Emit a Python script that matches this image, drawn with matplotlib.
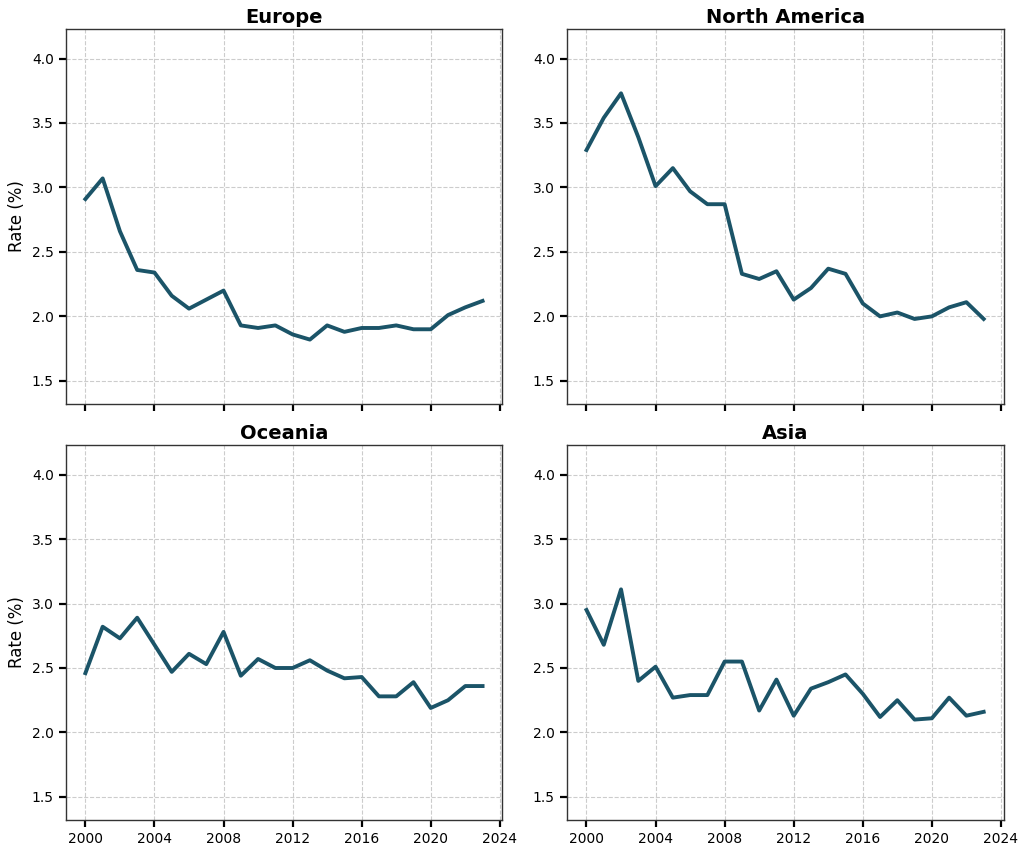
import numpy as np
import matplotlib
matplotlib.use("Agg")
import matplotlib.pyplot as plt

years = list(range(2000, 2024))

europe = [2.91, 3.07, 2.66, 2.36, 2.34, 2.16, 2.06, 2.13, 2.20, 1.93, 1.91, 1.93,
          1.86, 1.82, 1.93, 1.88, 1.91, 1.91, 1.93, 1.90, 1.90, 2.01, 2.07, 2.12]
north_america = [3.29, 3.54, 3.73, 3.39, 3.01, 3.15, 2.97, 2.87, 2.87, 2.33, 2.29, 2.35,
                 2.13, 2.22, 2.37, 2.33, 2.10, 2.00, 2.03, 1.98, 2.00, 2.07, 2.11, 1.98]
oceania = [2.46, 2.82, 2.73, 2.89, 2.68, 2.47, 2.61, 2.53, 2.78, 2.44, 2.57, 2.50,
           2.50, 2.56, 2.48, 2.42, 2.43, 2.28, 2.28, 2.39, 2.19, 2.25, 2.36, 2.36]
asia = [2.95, 2.68, 3.11, 2.40, 2.51, 2.27, 2.29, 2.29, 2.55, 2.55, 2.17, 2.41,
        2.13, 2.34, 2.39, 2.45, 2.30, 2.12, 2.25, 2.10, 2.11, 2.27, 2.13, 2.16]

regions = ["Europe", "North America", "Oceania", "Asia"]
series = [europe, north_america, oceania, asia]

LINE_COLOR = "#1b5468"

all_vals = np.concatenate([np.array(s) for s in series])
y_lo, y_hi = all_vals.min() - 0.5, all_vals.max() + 0.5

fig, axes = plt.subplots(2, 2, figsize=(10.24, 8.49), dpi=100, sharex=True)
fig.subplots_adjust(left=0.064, right=0.98, top=0.966, bottom=0.034,
                    wspace=0.147, hspace=0.109)

for i, (ax, name, vals) in enumerate(zip(axes.flat, regions, series)):
    ax.plot(years, vals, color=LINE_COLOR, linewidth=2.8)
    ax.set_title(name, fontsize=14, fontweight="bold", pad=4)
    ax.set_ylim(y_lo, y_hi)
    ax.set_xticks([2000, 2004, 2008, 2012, 2016, 2020, 2024])
    ax.set_yticks([1.5, 2.0, 2.5, 3.0, 3.5, 4.0])
    ax.grid(True, linestyle="--", color="#cccccc", linewidth=0.8)
    ax.tick_params(axis="both", labelsize=10, length=5, width=1.6)
    for sp in ax.spines.values():
        sp.set_linewidth(1.0)
        sp.set_color("#333333")
    if i % 2 == 0:
        ax.set_ylabel("Rate (%)", fontsize=12)

fig.savefig("out.png", dpi=100)
